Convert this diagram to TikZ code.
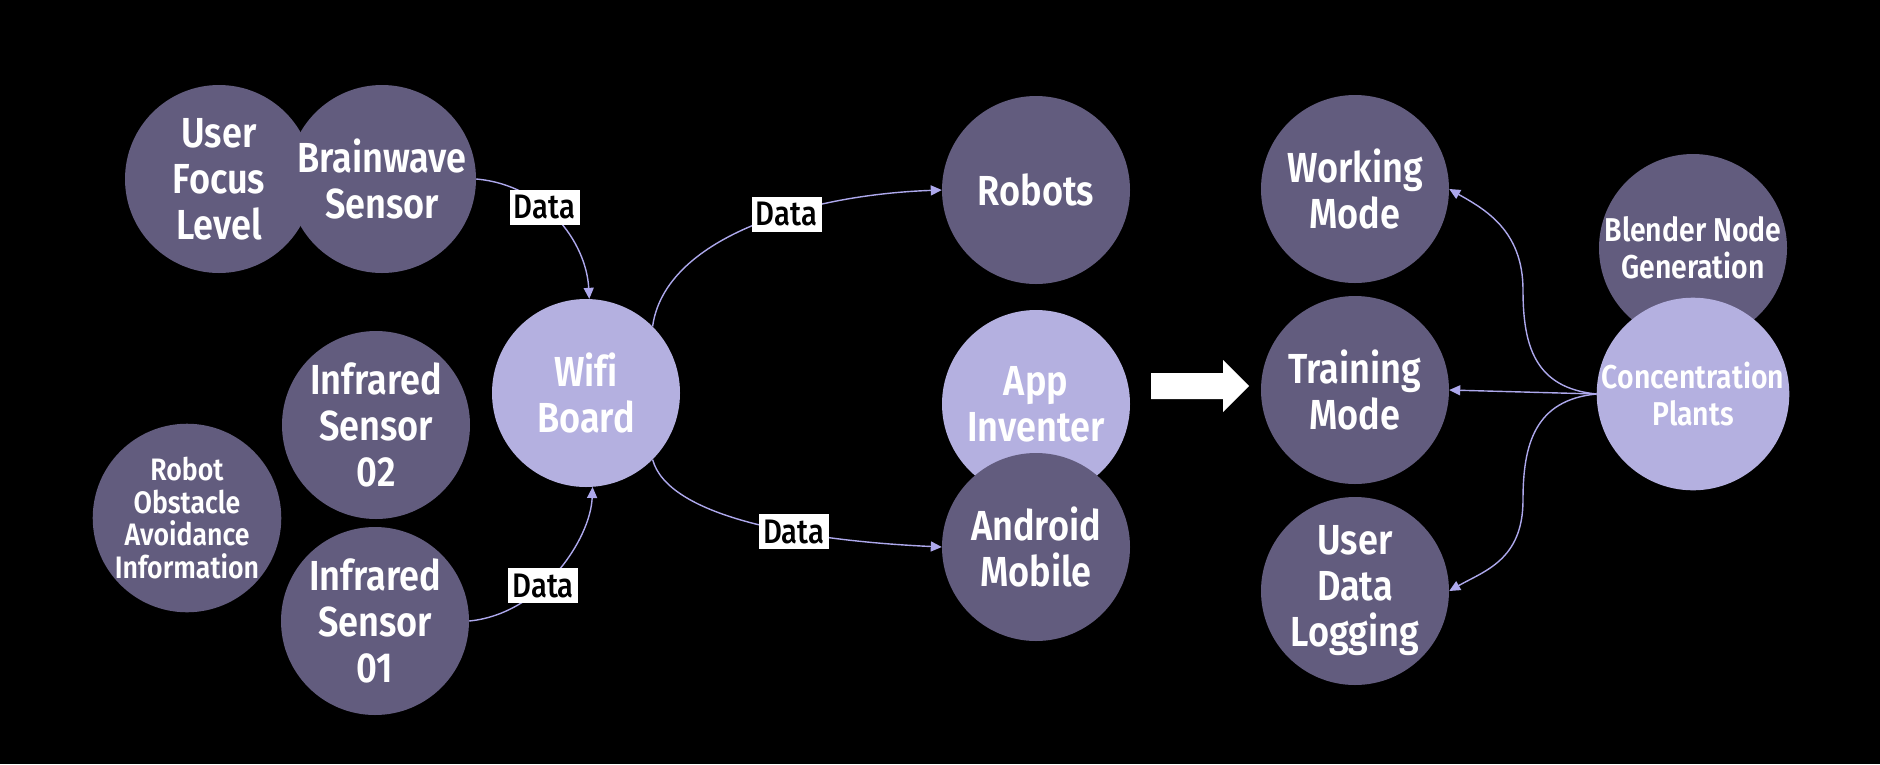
\documentclass[tikz,border=0pt]{standalone}
\usepackage{fontspec}
\setmainfont{Fira Sans}[FakeStretch=0.86, Ligatures=NoCommon, BoldFont={Fira Sans SemiBold}]
\newfontfamily\datafont{Fira Sans Medium}[FakeStretch=0.86, Ligatures=NoCommon]
\usetikzlibrary{arrows.meta}
\definecolor{nodedark}{HTML}{625C7E}
\definecolor{nodelight}{HTML}{B4B0E0}
\definecolor{edgecol}{HTML}{ADA8EC}
\tikzset{
  bubble/.style={circle, minimum size=188pt, inner sep=0pt, fill=nodedark, text=white, align=center, font=\fontsize{42}{46}\selectfont\bfseries},
  lightbubble/.style={bubble, fill=nodelight},
  smalltext/.style={font=\fontsize{31}{32.5}\selectfont\bfseries},
  midtext/.style={font=\fontsize{33}{37}\selectfont\bfseries},
  conn/.style={draw=edgecol, line width=1.4pt, -{Triangle[length=11pt,width=10pt]}},
  datalbl/.style={fill=white, text=black, inner sep=0pt, minimum width=70pt, minimum height=35pt, font=\fontsize{34}{36}\selectfont\datafont},
}
\begin{document}
\begin{tikzpicture}[x=1pt,y=-1pt]
\fill[black] (0,0) rectangle (1880,764);
\useasboundingbox (0,0) rectangle (1880,764);

% nodes
\node[bubble] (ufl) at (219,179) {User\\Focus\\Level};
\node[bubble] (bws) at (382,179) {Brainwave\\Sensor};
\node[bubble] (ir2) at (376,425) {Infrared\\Sensor\\02};
\node[bubble, smalltext] (roa) at (187,518) {Robot\\Obstacle\\Avoidance\\Information};
\node[bubble] (ir1) at (375,621) {Infrared\\Sensor\\01};
\node[lightbubble] (wifi) at (586,393) {Wifi\\Board};
\node[bubble] (robots) at (1036,190) {Robots};
\node[lightbubble] (app) at (1036,404) {App\\Inventer};
\node[bubble] (android) at (1036,547) {Android\\Mobile};
\node[bubble] (wm) at (1355,189) {Working\\Mode};
\node[bubble] (tm) at (1355,390) {Training\\Mode};
\node[bubble] (ul) at (1355,591) {User\\Data\\Logging};
\node[bubble, midtext] (bng) at (1693,248) {Blender Node\\Generation};
\node[lightbubble, midtext] (cp) at (1693,394) {Concentration\\Plants};

% big white arrow
\fill[white] (1151,373) -- (1223,373) -- (1223,360) -- (1249,386) -- (1223,412) -- (1223,399) -- (1151,399) -- cycle;

% waypoints
\coordinate (wv) at (1523,290);
\coordinate (lv) at (1523,500);

% connectors
\draw[conn] (bws.east) .. controls +(68,6) and +(-3,-57) .. (wifi.88)
  node[datalbl, pos=0.4] {Data};
\draw[conn] (wifi.45) .. controls +(12,-87) and +(-140,5) .. (robots.west)
  node[datalbl, pos=0.61] {Data};
\draw[conn] (wifi.-45) .. controls +(15,55) and +(-150,-7) .. (android.west)
  node[datalbl, pos=0.64] {Data};
\draw[conn] (ir1.east) .. controls +(72,-7) and +(-2,52) .. (wifi.-86)
  node[datalbl, pos=0.4] {Data};

\draw[conn] (cp.west) .. controls +(-62,-6) and +(0,55) .. (wv) .. controls +(0,-60) and +(35,20) .. (wm.east);
\draw[conn] (cp.west) -- (tm.east);
\draw[conn] (cp.west) .. controls +(-62,6) and +(0,-55) .. (lv) .. controls +(0,60) and +(35,-20) .. (ul.east);
\end{tikzpicture}
\end{document}
